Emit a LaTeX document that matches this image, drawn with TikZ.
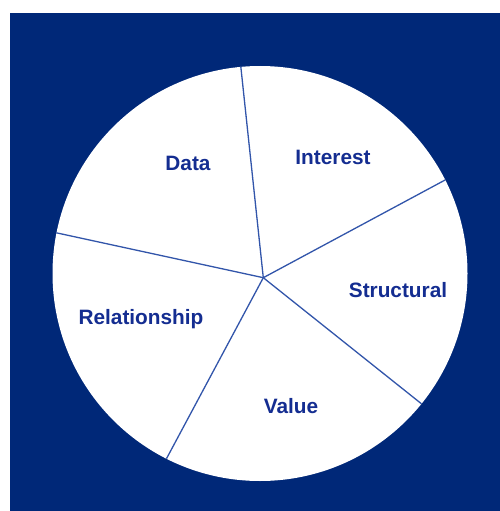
\documentclass[tikz,border=0pt]{standalone}
\usepackage{fontspec}
\setmainfont{Liberation Sans}
\usetikzlibrary{calc}
\definecolor{bgblue}{RGB}{0,40,120}
\definecolor{spoke}{RGB}{50,85,170}
\definecolor{labelblue}{RGB}{20,45,145}
\begin{document}
\begin{tikzpicture}[x=1pt,y=-1pt,
  lbl/.style={font=\fontsize{20.8}{25}\selectfont\bfseries, text=labelblue, inner sep=0pt},
  spokeline/.style={draw=spoke, line width=1.3pt}]
\useasboundingbox (0,0) rectangle (500,511);
\fill[bgblue] (10,13) rectangle (500,511);
\coordinate (c) at (260,273.5);
\fill[white] (c) circle[radius=207.5];
\coordinate (hub) at (263.3,277.7);
\coordinate (p1) at ($(c)+(-95.3:207.5)$);
\coordinate (p2) at ($(c)+(-26.8:207.5)$);
\coordinate (p3) at ($(c)+(38.9:207.5)$);
\coordinate (p4) at ($(c)+(116.8:207.5)$);
\coordinate (p5) at ($(c)+(191.3:207.5)$);
\foreach \p in {p1,p2,p3,p4,p5} \draw[spokeline] (hub) -- (\p);
\node[lbl] (data) at (188,163) {Data};
\node[lbl] (interest) at (333,157) {Interest};
\node[lbl] (structural) at (398,290) {Structural};
\node[lbl] (value) at (291,406) {Value};
\node[lbl] (relationship) at (141,319) {Relationship};
\end{tikzpicture}
\end{document}
